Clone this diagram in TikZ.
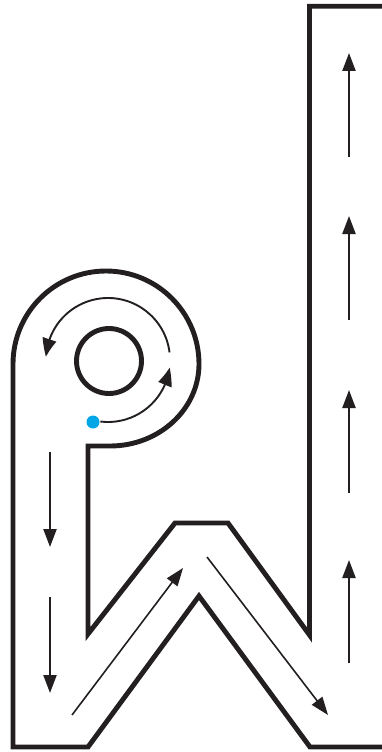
\documentclass[tikz,border=0pt]{standalone}
\usetikzlibrary{arrows.meta,bending}
\definecolor{ink}{RGB}{35,31,32}
\definecolor{dotblue}{RGB}{0,166,230}
\begin{document}
\begin{tikzpicture}[x=1pt,y=-1pt,
  wall/.style={line width=4.9pt, line join=miter, draw=ink},
  flow/.style={line width=2.3pt, draw=ink, -{Triangle[length=18pt,width=13pt]}},
  thinflow/.style={line width=1.6pt, draw=ink, -{Triangle[length=18pt,width=13pt]}},
  arcflow/.style={line width=1.9pt, draw=ink, -{Triangle[length=18pt,width=14pt,bend]}}]
\useasboundingbox (0,0) rectangle (382,752);
\fill[white] (0,0) rectangle (382,752);
% maze walls
\draw[wall] (392,747) -- (310,747) -- (199,596) -- (88,747) -- (13,747) -- (13,364)
  arc[start angle=180,end angle=360,radius=93]
  arc[start angle=0,end angle=90,x radius=89,y radius=82]
  -- (88,446) -- (88,634) -- (175,523) -- (228,523) -- (309.5,635) -- (309.5,6.3) -- (392,6.3);
\draw[wall] (109,361) circle[radius=32.5];
% start dot
\fill[dotblue] (93,422) circle[radius=6.5];
% curved arrows in the bowl
\coordinate (c) at (108,360);
\draw[arcflow] ([shift={(97:62)}]c) arc[start angle=97,end angle=7,radius=62];
\draw[arcflow] ([shift={(-7:62)}]c) arc[start angle=-7,end angle=-177,radius=62];
% left downward arrows
\coordinate (l1a) at (50,452); \coordinate (l1b) at (50,547);
\coordinate (l2a) at (50,597); \coordinate (l2b) at (50,693);
\draw[flow] (l1a) -- (l1b);
\draw[flow] (l2a) -- (l2b);
% diagonal arrows
\coordinate (d1a) at (72,715); \coordinate (d1b) at (183,568);
\coordinate (d2a) at (207,557); \coordinate (d2b) at (328,715);
\draw[thinflow] (d1a) -- (d1b);
\draw[thinflow] (d2a) -- (d2b);
% right upward arrows
\coordinate (r1a) at (349,663); \coordinate (r1b) at (349,560);
\coordinate (r2a) at (349,493); \coordinate (r2b) at (349,390);
\coordinate (r3a) at (349,320); \coordinate (r3b) at (349,216);
\coordinate (r4a) at (349,157); \coordinate (r4b) at (349,53);
\draw[flow] (r1a) -- (r1b);
\draw[flow] (r2a) -- (r2b);
\draw[flow] (r3a) -- (r3b);
\draw[flow] (r4a) -- (r4b);
\end{tikzpicture}
\end{document}
